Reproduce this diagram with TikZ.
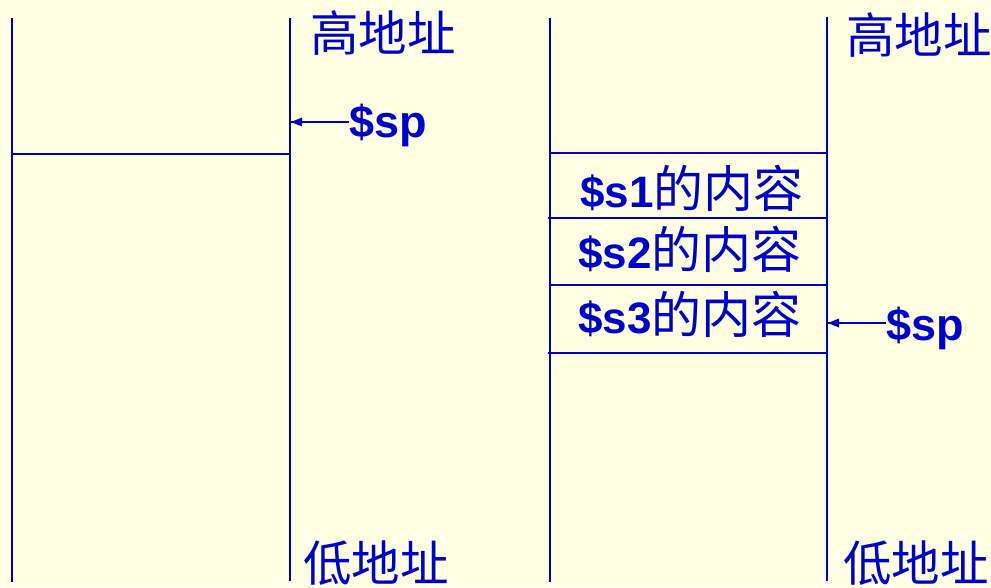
\documentclass[tikz,border=0pt]{standalone}
\usepackage{fontspec}
\setmainfont{Liberation Sans}
\newfontfamily\cjk{Noto Sans CJK SC}
\definecolor{bg}{HTML}{FFFFE3}
\definecolor{ink}{HTML}{0000CC}
\tikzset{
  wall/.style={draw=ink, line width=1.8pt},
  ptr/.style={draw=ink, line width=1.5pt},
  tiphead/.style={fill=ink},
  addr/.style={text=ink, inner sep=0pt, anchor=west, font=\cjk\fontsize{48.5}{52}\selectfont},
  reg/.style={text=ink, inner sep=0pt, anchor=base west, font=\bfseries\fontsize{45}{50}\selectfont},
  cell/.style={text=ink, inner sep=0pt, anchor=base west, font=\fontsize{44}{50}\selectfont},
}
\newcommand{\cellcjk}[1]{{\cjk\fontsize{50}{54}\selectfont #1}}
\begin{document}
\begin{tikzpicture}[x=1pt,y=-1pt]
\useasboundingbox[fill=bg] (0,0) rectangle (991,587);
% left stack
\coordinate (L1t) at (12,18);  \coordinate (L1b) at (12,582);
\coordinate (L2t) at (290,18); \coordinate (L2b) at (290,581);
\coordinate (Lh1) at (12,154); \coordinate (Lh2) at (290,154);
\draw[wall] (L1t) -- (L1b);
\draw[wall] (L2t) -- (L2b);
\draw[wall] (Lh1) -- (Lh2);
% right stack
\coordinate (R1t) at (550,18);  \coordinate (R1b) at (550,582);
\coordinate (R2t) at (827,17);  \coordinate (R2b) at (827,581);
\draw[wall] (R1t) -- (R1b);
\draw[wall] (R2t) -- (R2b);
\coordinate (Ra1) at (550,153); \coordinate (Rb1) at (827,153);
\coordinate (Ra2) at (548,218); \coordinate (Rb2) at (827,218);
\coordinate (Ra3) at (550,285); \coordinate (Rb3) at (827,285);
\coordinate (Ra4) at (548,353); \coordinate (Rb4) at (827,353);
\draw[wall] (Ra1) -- (Rb1);
\draw[wall] (Ra2) -- (Rb2);
\draw[wall] (Ra3) -- (Rb3);
\draw[wall] (Ra4) -- (Rb4);
% address labels
\node[addr] (hiL) at (310,33) {高地址};
\node[addr] (loL) at (303,563) {低地址};
\node[addr] (hiR) at (846,35) {高地址};
\node[addr] (loR) at (843,563) {低地址};
% stack contents
\node[cell] (s1) at (580,207) {\textbf{\$s1}\cellcjk{的内容}};
\node[cell] (s2) at (578,268) {\textbf{\$s2}\cellcjk{的内容}};
\node[cell] (s3) at (578,333) {\textbf{\$s3}\cellcjk{的内容}};
% stack pointers
\node[reg] (spL) at (349,137) {\$sp};
\node[reg] (spR) at (886,340) {\$sp};
\coordinate (aL) at (291,122);
\coordinate (aR) at (828,323);
\draw[ptr] (spL.west |- aL) -- (aL);
\draw[ptr] (spR.west |- aR) -- (aR);
\fill[tiphead] (aL) -- ++(11,-4.5) -- ++(0,9) -- cycle;
\fill[tiphead] (aR) -- ++(11,-4.5) -- ++(0,9) -- cycle;
\end{tikzpicture}
\end{document}
